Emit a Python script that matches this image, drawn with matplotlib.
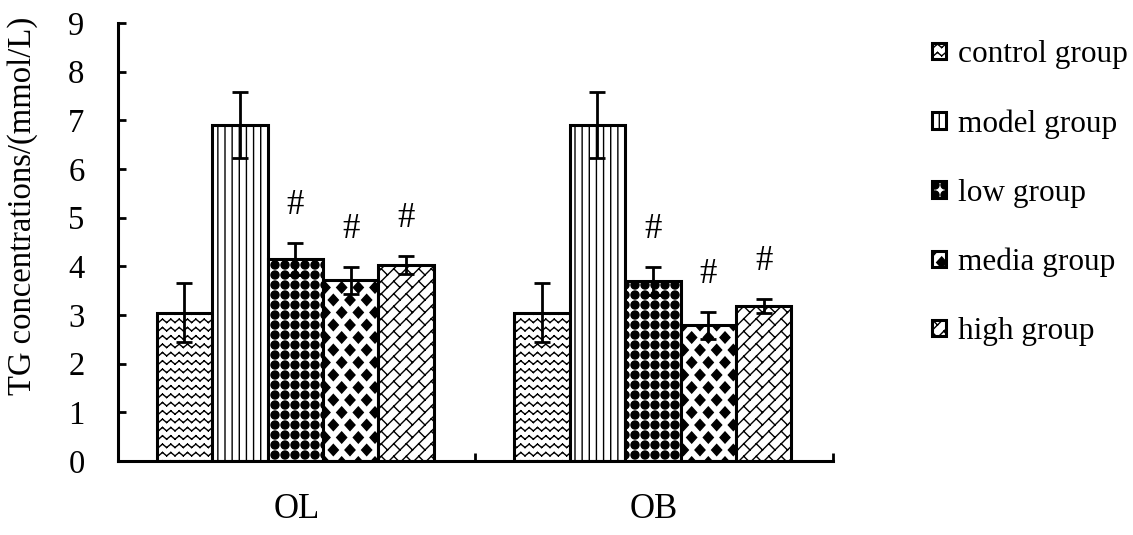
import warnings
import numpy as np
import matplotlib
matplotlib.use("Agg")
import matplotlib.pyplot as plt
from matplotlib import hatch as mhatch
from matplotlib.path import Path

warnings.filterwarnings("ignore", category=matplotlib.MatplotlibDeprecationWarning)

# ---------------------------------------------------------------- data
groups = ["OL", "OB"]
series = ["control group", "model group", "low group", "media group", "high group"]

control_mean = [3.05, 3.05]
control_err = [0.60, 0.60]
model_mean = [6.90, 6.90]
model_err = [0.68, 0.68]
low_mean = [4.15, 3.70]
low_err = [0.32, 0.28]
media_mean = [3.71, 2.79]
media_err = [0.28, 0.28]
high_mean = [4.03, 3.18]
high_err = [0.18, 0.14]

# '#' = significant difference versus the model group
significant = [False, False, True, True, True]

y_ticks = [0, 1, 2, 3, 4, 5, 6, 7, 8, 9]
y_label = "TG concentrations/(mmol/L)"

means = [control_mean, model_mean, low_mean, media_mean, high_mean]
errs = [control_err, model_err, low_err, media_err, high_err]


# ------------------------------------------------------- fill patterns
class _SegmentHatch(mhatch.HatchPatternBase):
    """Pattern built only from straight two-point segments."""
    char = None

    def __init__(self, hatch, density):
        if self.char in hatch:
            self.segs = np.asarray(self.segments(), dtype=float)
        else:
            self.segs = np.empty((0, 2, 2))
        self.num_vertices = 2 * len(self.segs)

    def set_vertices_and_codes(self, vertices, codes):
        vertices[:] = self.segs.reshape(-1, 2)
        codes[0::2] = Path.MOVETO
        codes[1::2] = Path.LINETO


class ZigzagHatch(_SegmentHatch):
    char = "z"
    rows, waves, amp = 12, 12, 0.017

    def segments(self):
        segs = []
        xs = np.arange(-1, 2 * self.waves + 2) / (2 * self.waves)
        sign = np.where(np.arange(len(xs)) % 2 == 0, 1.0, -1.0)
        for k in range(self.rows):
            y0 = (k + 0.5) / self.rows
            pts = np.column_stack([xs, y0 + self.amp * sign])
            segs.extend(np.stack([pts[:-1], pts[1:]], axis=1))
        return segs


class FineVerticalHatch(_SegmentHatch):
    char = "v"
    n = 14

    def segments(self):
        xs = (np.arange(self.n) + 0.5) / self.n
        return [[[x, -0.1], [x, 1.1]] for x in xs]


class DiagonalBrickHatch(_SegmentHatch):
    char = "b"
    n, m = 8, 4

    def segments(self):
        segs = []
        for k in range(-self.n - 1, self.n + 1):
            c1 = k / self.n
            c2 = (k + 1) / self.n
            segs.append([[-0.2, -0.2 + c1], [1.2, 1.2 + c1]])
            for j in range(-1, 2 * self.m + 2):
                s = j / self.m + (k % 2) / (2 * self.m)
                segs.append([[(s - c1) / 2, (s + c1) / 2],
                             [(s - c2) / 2, (s + c2) / 2]])
        return segs


class _ShapeHatch(mhatch.HatchPatternBase):
    """Filled shapes placed on a lattice."""
    char = None

    def __init__(self, hatch, density):
        self.centers = np.asarray(self.lattice() if self.char in hatch
                                  else np.empty((0, 2)), dtype=float)
        verts, codes = self.shape()
        self.shape_verts = np.asarray(verts, dtype=float)
        self.shape_codes = np.asarray(codes, dtype=Path.code_type)
        self.num_vertices = len(self.centers) * len(self.shape_verts)

    def set_vertices_and_codes(self, vertices, codes):
        n = len(self.shape_verts)
        for i, c in enumerate(self.centers):
            vertices[i * n:(i + 1) * n] = self.shape_verts + c
            codes[i * n:(i + 1) * n] = self.shape_codes


class DotGridHatch(_ShapeHatch):
    char = "c"
    n, radius = 10, 0.040

    def lattice(self):
        g = (np.arange(-1, self.n + 1) + 0.5) / self.n
        return [(x, y) for x in g for y in g]

    def shape(self):
        circ = Path.unit_circle()
        return circ.vertices * self.radius, circ.codes


class DiamondHatch(_ShapeHatch):
    char = "d"
    cols, rows, hx, hy = 6, 8, 0.050, 0.055

    def lattice(self):
        pts = []
        for r in range(-1, self.rows + 2):
            off = (r % 2) * 0.5 / self.cols
            for c in range(-1, self.cols + 2):
                pts.append((c / self.cols + off, r / self.rows))
        return pts

    def shape(self):
        verts = [[0, -self.hy], [self.hx, 0], [0, self.hy], [-self.hx, 0], [0, -self.hy]]
        codes = [Path.MOVETO, Path.LINETO, Path.LINETO, Path.LINETO, Path.CLOSEPOLY]
        return verts, codes


mhatch._hatch_types.extend([ZigzagHatch, FineVerticalHatch, DotGridHatch,
                            DiamondHatch, DiagonalBrickHatch])

hatches = ["z", "v", "c", "d", "b"]

# --------------------------------------------------------------- style
plt.rcParams["font.family"] = ["Liberation Serif", "DejaVu Serif"]
plt.rcParams["hatch.linewidth"] = 1.0

fig = plt.figure(figsize=(11.33, 5.35), dpi=100)
ax = fig.add_axes([0.1041, 0.1383, 0.6311, 0.8187])

n_series = len(series)
bar_w = 0.155
centers = np.arange(len(groups)) + 0.5

for i, (name, m, e, h) in enumerate(zip(series, means, errs, hatches)):
    x = centers + (i - (n_series - 1) / 2) * bar_w - 0.004
    ax.bar(x, m, bar_w, yerr=e, facecolor="white", edgecolor="black",
           linewidth=2.2, hatch=h, label=name, zorder=2,
           error_kw=dict(ecolor="black", elinewidth=2.0, capsize=5.8,
                         capthick=2.0, zorder=3))
    if significant[i]:
        for xi, mi, ei in zip(x, m, e):
            ax.annotate("#", (xi, mi + ei), xytext=(0, 27),
                        textcoords="offset points", ha="center", va="center",
                        fontsize=25)

ax.set_xlim(0, len(groups))
ax.set_ylim(y_ticks[0], y_ticks[-1])
ax.set_yticks(y_ticks)
ax.tick_params(axis="y", direction="in", length=6, width=2, pad=24,
               labelsize=23.5)

ax.set_xticks(np.arange(len(groups) + 1))
ax.set_xticklabels([])
ax.tick_params(axis="x", which="major", direction="in", length=6, width=2)
ax.set_xticks(centers, minor=True)
ax.set_xticklabels(groups, minor=True)
ax.tick_params(axis="x", which="minor", length=0, pad=23, labelsize=25)

for side in ("top", "right"):
    ax.spines[side].set_visible(False)
for side in ("left", "bottom"):
    ax.spines[side].set_linewidth(2.2)

ax.set_ylabel(y_label, fontsize=23.5)
ax.yaxis.set_label_coords(-0.112, 0.582)

ax.legend(loc="upper left", bbox_to_anchor=(0.8225, 0.925),
          bbox_transform=fig.transFigure, frameon=False, fontsize=22.5,
          handlelength=0.44, handleheight=0.44, handletextpad=0.4,
          labelspacing=1.28, borderpad=0, borderaxespad=0)

fig.savefig("out.png", dpi=100)
